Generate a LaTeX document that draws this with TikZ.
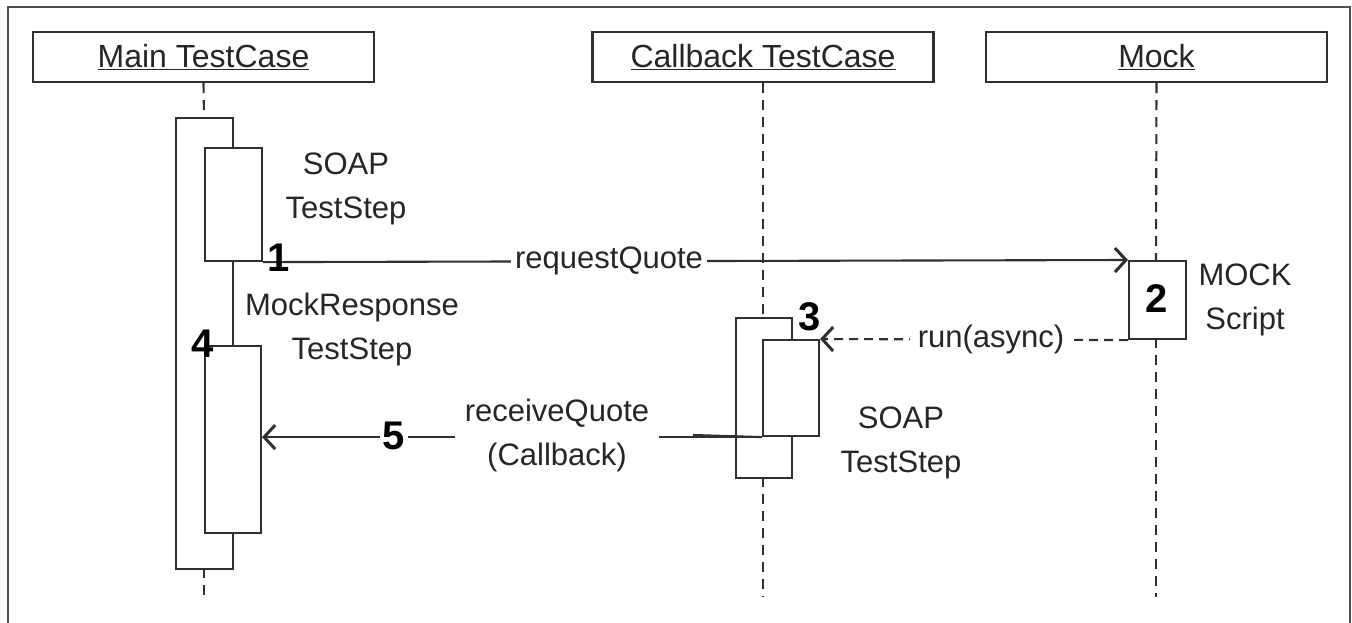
\documentclass[tikz,border=0pt]{standalone}
\usepackage{fontspec}
\setmainfont{Liberation Sans}
\usetikzlibrary{arrows.meta}
\definecolor{ink}{HTML}{303030}
\definecolor{txt}{HTML}{262626}
\tikzset{
  frameline/.style={draw=ink!85, line width=2.8pt},
  header/.style={draw=ink, line width=2.2pt, fill=white, minimum width=341pt, minimum height=50pt, inner sep=0pt,
     text=txt, font=\fontsize{32}{38}\selectfont},
  lifeline/.style={draw=ink, line width=2.1pt, dash pattern=on 10pt off 7pt},
  actbox/.style={draw=ink, line width=2.1pt, fill=white, inner sep=0pt, anchor=north west},
  lbl/.style={text=txt, inner sep=0pt, align=center, font=\fontsize{31}{44}\selectfont},
  onlbl/.style={lbl, fill=white, inner sep=7pt},
  num/.style={text=black, inner sep=0pt, font=\bfseries\fontsize{40}{40}\selectfont},
  msg/.style={draw=ink, line width=2.1pt, -{Straight Barb[length=11pt, width=24pt, line width=3pt]}},
  amsg/.style={msg, dash pattern=on 9pt off 6pt},
}
\begin{document}
\begin{tikzpicture}[x=1pt, y=-1pt]
\useasboundingbox[fill=white] (0,0) rectangle (1352,623);
% outer frame
\draw[frameline] (8,623) -- (8,7) -- (1350,7) -- (1350,623);

% headers
\node[header] (main) at (203.5,57) {\underline{Main TestCase}};
\node[header] (cb) at (763,57) {\underline{Callback TestCase}};
\node[header] (mock) at (1156.5,57) {\underline{Mock}};

% lifeline end coordinates
\coordinate (mainend) at (204,597);
\coordinate (cbend) at (763,597);
\coordinate (mockend) at (1156,597);

% lifelines first
\draw[lifeline] (main.south) -- (204,117);
\draw[lifeline] (204,568) -- (mainend);
\draw[lifeline] (cb.south) -- (763,317);
\draw[lifeline] (763,477) -- (cbend);
\draw[lifeline] (mock.south) -- (1156,260);
\draw[lifeline] (1156,338) -- (mockend);

% main test case activations
\node[actbox, minimum width=57pt, minimum height=451pt] (mainact) at (175,117) {};
\node[actbox, minimum width=57pt, minimum height=113pt] (soap1) at (204,147) {};
\node[actbox, minimum width=56pt, minimum height=187pt] (mr) at (204,345) {};

% callback activations
\node[actbox, minimum width=56pt, minimum height=160pt] (cbact) at (735,317) {};
\node[actbox, minimum width=56pt, minimum height=96pt] (cbin) at (762,339) {};

% mock activation
\node[actbox, minimum width=57pt, minimum height=78pt] (mockact) at (1128,260) {};

% messages
\draw[msg] (soap1.south east) -- node[onlbl, pos=0.40, inner xsep=4pt, inner ysep=2pt] (rq) {requestQuote} (mockact.north west);
\draw[amsg] (mockact.south west) -- node[onlbl, pos=0.445, inner xsep=8pt, inner ysep=2pt] (ra) {run(async)} (cbin.north east);
\draw[msg] (cbin.south west) -- (cbin.south west -| mr.east);
\coordinate (rqstart) at (693,435);
\draw[draw=ink, line width=2.1pt] (rqstart) -- (cbin.south west);
\node[onlbl, inner xsep=10pt, inner ysep=4pt] (rcv) at (557,435) {receiveQuote\\(Callback)};
\node[num, fill=white, inner xsep=3pt, inner ysep=0pt] (n5) at (394,436) {5};

% numbers
\node[num] (n1) at (279,258) {1};
\node[num] (n2) at (1157,299) {2};
\node[num] (n3) at (810,317) {3};
\node[num] (n4) at (203,344) {4};

% text labels
\node[lbl] (soapa) at (346,189) {SOAP\\TestStep};
\node[lbl] (mrl) at (352,329) {MockResponse\\TestStep};
\node[lbl] (soapb) at (901,443) {SOAP\\TestStep};
\node[lbl] (mscript) at (1245,300) {MOCK\\Script};
\end{tikzpicture}
\end{document}
